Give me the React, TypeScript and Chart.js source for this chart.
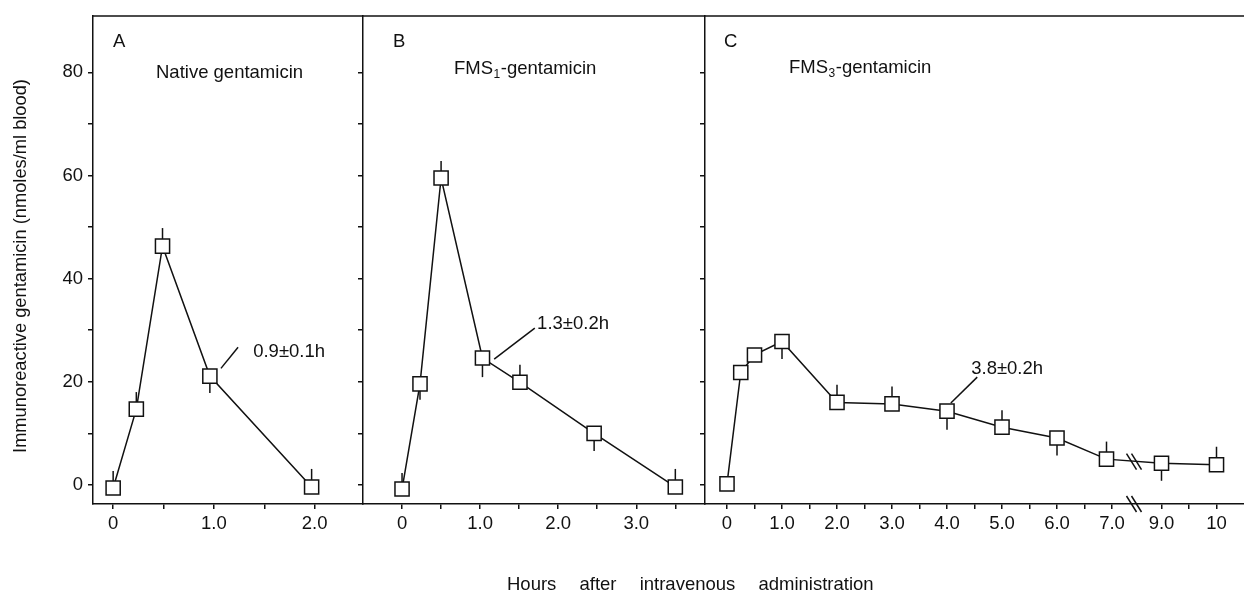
import React, { useEffect, useRef } from 'react';
import { Chart, registerables } from 'chart.js';

Chart.register(...registerables);

const FONT = '"Liberation Sans", Arial, Helvetica, sans-serif';
const INK = '#111';

// ---------- Panel A : Native gentamicin ----------
const hoursA = [0, 0.23, 0.49, 0.96, 1.97];
const valuesA = [-0.6, 14.7, 46.3, 21.1, -0.4];
const errorsA: (number | null)[] = [3.3, 3.3, 3.5, -3.3, 3.5];
const xTicksA = [0, 0.5, 1, 1.5, 2];
const xLabelsA = ['0', '', '1.0', '', '2.0'];

// ---------- Panel B : FMS1-gentamicin ----------
const hoursB = [0, 0.23, 0.5, 1.03, 1.51, 2.46, 3.5];
const valuesB = [-0.8, 19.6, 59.5, 24.6, 19.9, 10.0, -0.4];
const errorsB: (number | null)[] = [3.1, -3.1, 3.3, -3.7, 3.4, -3.4, 3.5];
const xTicksB = [0, 0.5, 1, 1.5, 2, 2.5, 3, 3.5];
const xLabelsB = ['0', '', '1.0', '', '2.0', '', '3.0', ''];

// ---------- Panel C : FMS3-gentamicin (broken axis between 7 and 9 h) ----------
const hoursC = [0, 0.25, 0.5, 1, 2, 3, 4, 5, 6, 6.9, 9, 10];
const valuesC = [0.2, 21.8, 25.2, 27.8, 16.0, 15.7, 14.3, 11.2, 9.1, 5.0, 4.2, 3.9];
const errorsC: (number | null)[] = [null, null, null, -3.4, 3.4, 3.4, -3.6, 3.3, -3.4, 3.4, -3.4, 3.5];
const xTicksC = [0, 0.5, 1, 1.5, 2, 2.5, 3, 3.5, 4, 4.5, 5, 5.5, 6, 6.5, 7, 9, 9.5, 10];
const xLabelsC = ['0', '', '1.0', '', '2.0', '', '3.0', '', '4.0', '', '5.0', '', '6.0', '', '7.0', '9.0', '', '10'];

// ---------- shared y axis ----------
const yTicks = [0, 10, 20, 30, 40, 50, 60, 70, 80];
const yLabels = ['0', '', '20', '', '40', '', '60', '', '80'];

const halfLives = ['0.9±0.1h', '1.3±0.2h', '3.8±0.2h'];

const yTitle = 'Immunoreactive gentamicin (nmoles/ml blood)';
const xTitle = 'Hours after intravenous administration';

// broken axis: hours beyond the gap are pulled left by 1.1 h
const brokenAxis = (h: number) => (h <= 7.5 ? h : h - 1.1);

type Panel = {
  hours: number[];
  values: number[];
  errors: (number | null)[];
  xTicks: number[];
  xLabels: string[];
  xMin: number;
  xMax: number;
  mapX?: (h: number) => number;
  width: number;
  yWidth: number;
  padRight: number;
  showYLabels: boolean;
  letter: string;
  letterDx: number;
  title: [string, string, string];
  titleDx: number;
  titleBase: number;
  note: string;
  noteAt: [number, number];
  leader: [number, number, number, number];
  breakAt?: number;
  breakY?: number;
  yTitle?: string;
};

const panelA: Panel = {
  hours: hoursA, values: valuesA, errors: errorsA, xTicks: xTicksA, xLabels: xLabelsA,
  xMin: -0.2, xMax: 2.48, width: 370, yWidth: 93, padRight: 7, showYLabels: true,
  letter: 'A', letterDx: 20, title: ['Native gentamicin', '', ''], titleDx: 63, titleBase: 78,
  note: halfLives[0], noteAt: [1.39, 24.8], leader: [1.07, 22.6, 1.24, 26.7], yTitle,
};

const panelB: Panel = {
  hours: hoursB, values: valuesB, errors: errorsB, xTicks: xTicksB, xLabels: xLabelsB,
  xMin: -0.5, xMax: 3.88, width: 370, yWidth: 20, padRight: 8, showYLabels: false,
  letter: 'B', letterDx: 30, title: ['FMS', '1', '-gentamicin'], titleDx: 91, titleBase: 74,
  note: halfLives[1], noteAt: [1.73, 30.2], leader: [1.18, 24.4, 1.70, 30.4],
};

const panelC: Panel = {
  hours: hoursC, values: valuesC, errors: errorsC, xTicks: xTicksC, xLabels: xLabelsC,
  xMin: -0.4, xMax: 9.4, mapX: brokenAxis, width: 559, yWidth: 20, padRight: 0, showYLabels: false,
  letter: 'C', letterDx: 19, title: ['FMS', '3', '-gentamicin'], titleDx: 84, titleBase: 73,
  note: halfLives[2], noteAt: [4.44, 21.5], leader: [4.07, 15.9, 4.55, 20.9],
  breakAt: 7.4, breakY: 4.5,
};

function makePanel(canvas: HTMLCanvasElement, p: Panel) {
  const map = p.mapX || ((h: number) => h);
  const font = { family: FONT, size: 18.5 };
  const axisGrid = {
    display: true,
    drawOnChartArea: false,
    drawTicks: true,
    tickLength: 5,
    color: INK,
    lineWidth: 1.5,
  };
  const axisBorder = { display: true, color: INK, width: 1.5 };

  const deco = {
    id: 'deco',
    beforeDatasetsDraw(chart: any) {
      const { ctx, scales } = chart;
      const x = scales.x;
      const y = scales.y;
      ctx.save();
      ctx.strokeStyle = INK;
      ctx.lineWidth = 1.5;
      p.hours.forEach((h, i) => {
        const e = p.errors[i];
        if (e == null) return;
        const px = x.getPixelForValue(map(h));
        ctx.beginPath();
        ctx.moveTo(px, y.getPixelForValue(p.values[i]));
        ctx.lineTo(px, y.getPixelForValue(p.values[i] + e));
        ctx.stroke();
      });
      ctx.restore();
    },
    afterDraw(chart: any) {
      const { ctx, chartArea: a, scales } = chart;
      const x = scales.x;
      const y = scales.y;
      ctx.save();
      ctx.strokeStyle = INK;
      ctx.fillStyle = INK;
      ctx.lineWidth = 1.5;
      // top frame line
      ctx.beginPath();
      ctx.moveTo(a.left - 0.75, a.top);
      ctx.lineTo(a.right, a.top);
      ctx.stroke();

      ctx.textAlign = 'left';
      ctx.textBaseline = 'alphabetic';
      ctx.font = `18.5px ${FONT}`;
      ctx.fillText(p.letter, a.left + p.letterDx, 47);

      // panel title with optional subscript
      let tx = a.left + p.titleDx;
      const [t1, sub, t2] = p.title;
      ctx.fillText(t1, tx, p.titleBase);
      tx += ctx.measureText(t1).width;
      if (sub) {
        ctx.font = `12px ${FONT}`;
        ctx.fillText(sub, tx + 0.5, p.titleBase + 4);
        tx += ctx.measureText(sub).width + 1;
        ctx.font = `18.5px ${FONT}`;
      }
      if (t2) ctx.fillText(t2, tx, p.titleBase);

      // half-life note with leader line
      const [lx1, ly1, lx2, ly2] = p.leader;
      ctx.beginPath();
      ctx.moveTo(x.getPixelForValue(map(lx1)), y.getPixelForValue(ly1));
      ctx.lineTo(x.getPixelForValue(map(lx2)), y.getPixelForValue(ly2));
      ctx.stroke();
      ctx.fillText(p.note, x.getPixelForValue(map(p.noteAt[0])), y.getPixelForValue(p.noteAt[1]));

      // axis break marks
      if (p.breakAt != null && p.breakY != null) {
        const bx = x.getPixelForValue(p.breakAt);
        [y.getPixelForValue(p.breakY), a.bottom].forEach((by: number) => {
          [-2.5, 2.5].forEach((d) => {
            ctx.beginPath();
            ctx.moveTo(bx + d - 5, by - 8);
            ctx.lineTo(bx + d + 5, by + 8);
            ctx.stroke();
          });
        });
      }

      // y axis title
      if (p.yTitle) {
        ctx.save();
        ctx.translate(21, 266);
        ctx.rotate(-Math.PI / 2);
        ctx.textAlign = 'center';
        ctx.textBaseline = 'middle';
        ctx.font = `18.3px ${FONT}`;
        ctx.fillText(p.yTitle, 0, 0);
        ctx.restore();
      }
      ctx.restore();
    },
  };

  return new Chart(canvas, {
    type: 'line',
    data: {
      datasets: [
        {
          data: p.hours.map((h, i) => ({ x: map(h), y: p.values[i] })),
          borderColor: INK,
          borderWidth: 1.5,
          pointStyle: 'rect',
          pointRadius: 10,
          pointBorderWidth: 1.5,
          pointBorderColor: INK,
          pointBackgroundColor: '#fff',
          tension: 0,
          fill: false,
        },
      ],
    },
    options: {
      responsive: false,
      animation: false,
      devicePixelRatio: 1,
      events: [],
      layout: { autoPadding: false, padding: { top: 15, right: p.padRight, left: 0, bottom: 0 } },
      plugins: { legend: { display: false }, tooltip: { enabled: false }, title: { display: false } },
      scales: {
        x: {
          type: 'linear',
          min: p.xMin,
          max: p.xMax,
          afterBuildTicks: (s: any) => {
            s.ticks = p.xTicks.map((v) => ({ value: map(v) }));
          },
          afterFit: (s: any) => {
            s.height = 88;
          },
          ticks: {
            autoSkip: false,
            maxRotation: 0,
            minRotation: 0,
            padding: 4,
            color: INK,
            font,
            callback: (_v: any, i: number) => p.xLabels[i],
          },
          grid: axisGrid,
          border: axisBorder,
        },
        y: {
          type: 'linear',
          min: -3.7,
          max: 90.9,
          afterBuildTicks: (s: any) => {
            s.ticks = yTicks.map((v) => ({ value: v }));
          },
          afterFit: (s: any) => {
            s.width = p.yWidth;
          },
          ticks: {
            autoSkip: false,
            padding: 5,
            color: INK,
            font,
            callback: (_v: any, i: number) => (p.showYLabels ? yLabels[i] : ''),
          },
          grid: axisGrid,
          border: axisBorder,
        },
      },
    } as any,
    plugins: [deco],
  });
}

export default function App() {
  const refA = useRef<HTMLCanvasElement>(null);
  const refB = useRef<HTMLCanvasElement>(null);
  const refC = useRef<HTMLCanvasElement>(null);

  useEffect(() => {
    const charts = [
      makePanel(refA.current!, panelA),
      makePanel(refB.current!, panelB),
      makePanel(refC.current!, panelC),
    ];
    return () => charts.forEach((c) => c.destroy());
  }, []);

  return (
    <div
      style={{
        position: 'absolute',
        left: 0,
        top: 0,
        width: 1244,
        height: 592,
        background: '#fff',
        overflow: 'hidden',
      }}
    >
      <canvas ref={refA} width={panelA.width} height={592} style={{ position: 'absolute', left: 0, top: 0 }} />
      <canvas ref={refB} width={panelB.width} height={592} style={{ position: 'absolute', left: 343, top: 0 }} />
      <canvas ref={refC} width={panelC.width} height={592} style={{ position: 'absolute', left: 685, top: 0 }} />
      <div
        style={{
          position: 'absolute',
          left: 507,
          top: 573,
          font: `18.5px ${FONT}`,
          lineHeight: '22px',
          wordSpacing: 18,
          whiteSpace: 'nowrap',
          color: INK,
        }}
      >
        {xTitle}
      </div>
    </div>
  );
}
